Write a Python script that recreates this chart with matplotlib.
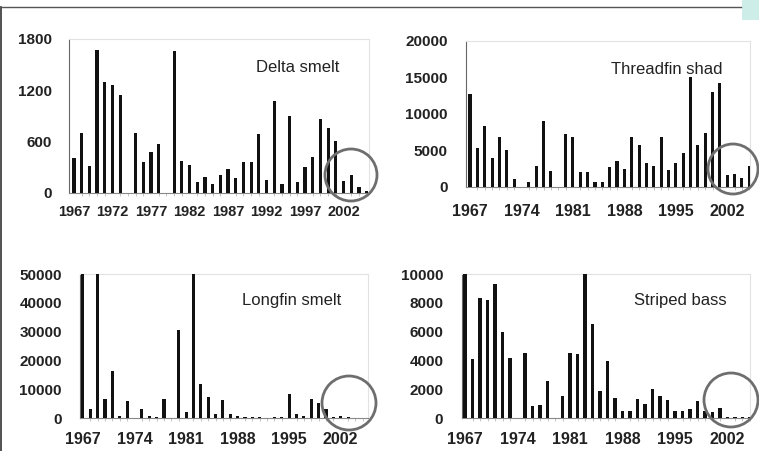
import numpy as np
import matplotlib
matplotlib.use('Agg')
import matplotlib.pyplot as plt
import matplotlib.patches as mpatches

nan = np.nan
years = np.arange(1967, 2006)

# FMWT abundance indices (1974 and 1979: no survey)
delta_smelt = [414, 696, 310, 1673, 1303, 1265, 1145, nan, 697, 359, 480, 572, nan,
               1654, 374, 331, 132, 182, 110, 212, 280, 174, 366, 364, 689, 156, 1078,
               102, 899, 127, 303, 420, 864, 756, 603, 139, 210, 74, 26]
threadfin_shad = [12700, 5300, 8300, 4000, 6800, 5000, 1100, nan, 650, 2900, 9000, 2200, nan,
                  7200, 6800, 2100, 2100, 650, 650, 2700, 3500, 2500, 6800, 5700, 3300, 2900,
                  6800, 2300, 3300, 4600, 15000, 5700, 7400, 13000, 14300, 1600, 1800, 1200, 2900]
longfin_smelt = [81737, 3200, 59350, 6600, 16200, 600, 5800, nan, 3100, 600, 350, 6700, nan,
                 30600, 2200, 62905, 11900, 7450, 1300, 6200, 1400, 600, 350, 230, 230, 120,
                 350, 350, 8400, 1400, 700, 6600, 5200, 3100, 250, 700, 470, 13, 130]
striped_bass = [11000, 4100, 8300, 8200, 9300, 6000, 4200, nan, 4500, 800, 880, 2600, nan,
                1500, 4480, 4460, 11000, 6500, 1850, 3930, 1390, 460, 460, 1340, 970, 2020,
                1500, 1240, 460, 460, 610, 1170, 460, 430, 710, 60, 50, 40, 60]

names = ['Delta smelt', 'Threadfin shad', 'Longfin smelt', 'Striped bass']
series = [delta_smelt, threadfin_shad, longfin_smelt, striped_bass]
y_ticks = [[0, 600, 1200, 1800], [0, 5000, 10000, 15000, 20000],
           [0, 10000, 20000, 30000, 40000, 50000], [0, 2000, 4000, 6000, 8000, 10000]]
x_ticks = [list(range(1967, 2006, 5)), list(range(1967, 2006, 7)),
           list(range(1967, 2006, 7)), list(range(1967, 2006, 7))]

W, H = 759, 451
# panel boxes in pixels: left, top, right, bottom
boxes = [(69, 39, 369, 193), (466, 41, 750, 187), (80, 274, 368, 418), (462, 274, 750, 418)]
xlims = [(1966.35, 2005.3), (1966.45, 2005.1), (1966.6, 2005.7), (1966.6, 2005.0)]
title_xy = [(298, 68), (667, 70), (292, 300), (680, 300)]
circles = [(351, 175, 26), (733, 169, 25), (349, 403, 27), (731, 400, 27)]
xpads = [8.6, 12.1, 10.1, 10.1]
xsizes = [10.5, 11.5, 11.5, 11.5]
ypads = [12, 13, 13, 13.5]

fig = plt.figure(figsize=(W / 100, H / 100), dpi=100)
fam = ['Liberation Sans', 'DejaVu Sans']

for i in range(4):
    l, t, r, b = boxes[i]
    ax = fig.add_axes([l / W, 1 - b / H, (r - l) / W, (b - t) / H])
    ax.bar(years, series[i], width=0.42, color='#111111', zorder=3)
    ax.set_xlim(*xlims[i])
    ax.set_ylim(0, y_ticks[i][-1])
    ax.set_yticks(y_ticks[i])
    ax.set_xticks(x_ticks[i])
    ax.set_xticks(years, minor=True)
    ax.set_yticklabels([str(v) for v in y_ticks[i]], family=fam, weight='bold',
                       size=11, color='#222222')
    ax.set_xticklabels([str(v) for v in x_ticks[i]], family=fam, weight='bold',
                       size=xsizes[i], color='#222222')
    ax.tick_params(axis='y', length=0, pad=ypads[i])
    ax.tick_params(axis='x', which='major', length=0, pad=xpads[i])
    ax.tick_params(axis='x', which='minor', length=2, color='#bbbbbb')
    ax.spines['left'].set_color('#666666')
    ax.spines['bottom'].set_color('#888888')
    for s in ['top', 'right']:
        ax.spines[s].set_color('#e2e2e2')

# overlay in pixel coordinates for labels, circles and the frame
ov = fig.add_axes([0, 0, 1, 1], zorder=10)
ov.set_xlim(0, W)
ov.set_ylim(H, 0)
ov.axis('off')
ov.patch.set_alpha(0)
for (x, y), name in zip(title_xy, names):
    ov.text(x, y, name, ha='center', va='center', fontsize=12, family=fam, color='#222222')
for cx, cy, rad in circles:
    ov.add_patch(mpatches.Circle((cx, cy), rad, fill=False, edgecolor='#6e6e6e', linewidth=2))
ov.plot([1, 1], [7, H], color='#333333', linewidth=1.2)
ov.plot([0, 741], [7, 7], color='#555555', linewidth=1)
ov.add_patch(mpatches.Rectangle((742, 0), 17, 20, facecolor='#cdeee8', edgecolor='none'))

fig.savefig('out.png', dpi=100)
